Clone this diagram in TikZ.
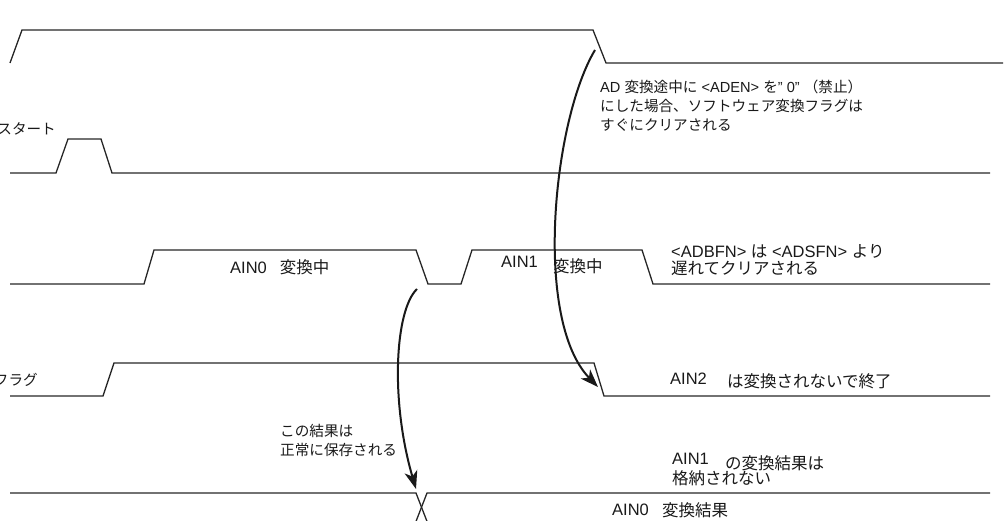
\documentclass[tikz,border=0pt]{standalone}
\usepackage{fontspec}
\setmainfont{Liberation Sans}
\newfontfamily\jp{Noto Sans CJK JP}
\usetikzlibrary{arrows.meta}
\begin{document}
\begin{tikzpicture}[x=1pt,y=-1pt,
  sig/.style={line width=1.3pt, draw=black!85, line join=miter},
  callout/.style={line width=2pt, draw=black!90, -{Stealth[length=18pt,width=13pt,inset=5pt]}},
  lblS/.style={inner sep=0pt, anchor=west, font=\fontsize{14.6}{17}\selectfont, text=black!90},
  lblL/.style={inner sep=0pt, anchor=west, font=\fontsize{16.5}{19}\selectfont, text=black!90}]
\useasboundingbox (0,0) rectangle (1008,521);
\clip (0,0) rectangle (1008,521);
% waveforms
\draw[sig] (10,63) -- (22,30) -- (593,30) -- (606,63) -- (1003,63);
\draw[sig] (10,173) -- (56,173) -- (68,139) -- (101,139) -- (112,173) -- (990,173);
\draw[sig] (10,284) -- (144,284) -- (154,250) -- (416,250) -- (428,284) -- (461,284) -- (472,250) -- (642,250) -- (653,284) -- (990,284);
\draw[sig] (10,396) -- (103,396) -- (114,363) -- (594,363) -- (604,396) -- (990,396);
\draw[sig] (10,493) -- (416,493) -- (428,524);
\draw[sig] (415,524) -- (427,493) -- (990,493);
% left labels
\node[lblS, anchor=east] (lstart) at (56,129) {\jp スタート};
\node[lblS, anchor=east] (lflag) at (38,380) {\jp フラグ};
% top annotation
\node[lblS] (a1) at (600,87) {AD {\jp 変換途中に} <ADEN> {\jp を}" 0" {\jp （禁止）}};
\node[lblS] (a2) at (600,106) {\jp にした場合、ソフトウェア変換フラグは};
\node[lblS] (a3) at (600,125) {\jp すぐにクリアされる};
% conversion labels
\node[lblL] (c0) at (230,267) {AIN0\hspace{13pt}{\jp 変換中}};
\node[lblL] (c1a) at (501,262) {AIN1};
\node[lblL] (c1b) at (553,266) {\jp 変換中};
\node[lblL] (b1) at (671,251) {<ADBFN> {\jp は} <ADSFN> {\jp より}};
\node[lblL] (b2) at (671,268) {\jp 遅れてクリアされる};
\node[lblL] (e1) at (670,379) {AIN2};
\node[lblL] (e2) at (727,381) {\jp は変換されないで終了};
\node[lblS] (s1) at (280,431) {\jp この結果は};
\node[lblS] (s2) at (280,450) {\jp 正常に保存される};
\node[lblL] (n1) at (672,459) {AIN1};
\node[lblL] (n2) at (725,463) {\jp の変換結果は};
\node[lblL] (n3) at (672,478) {\jp 格納されない};
\node[lblL] (r1) at (612,510) {AIN0};
\node[lblL] (r2) at (662,510) {\jp 変換結果};
% callout arrows
\coordinate (p1s) at (595,50);
\coordinate (p1e) at (598,387);
\coordinate (p2s) at (417,289);
\coordinate (p2e) at (416,489);
\draw[callout] (p1s) .. controls (553,120) and (533,320) .. (p1e);
\draw[callout] (p2s) .. controls (395,310) and (390,400) .. (p2e);
\end{tikzpicture}
\end{document}
